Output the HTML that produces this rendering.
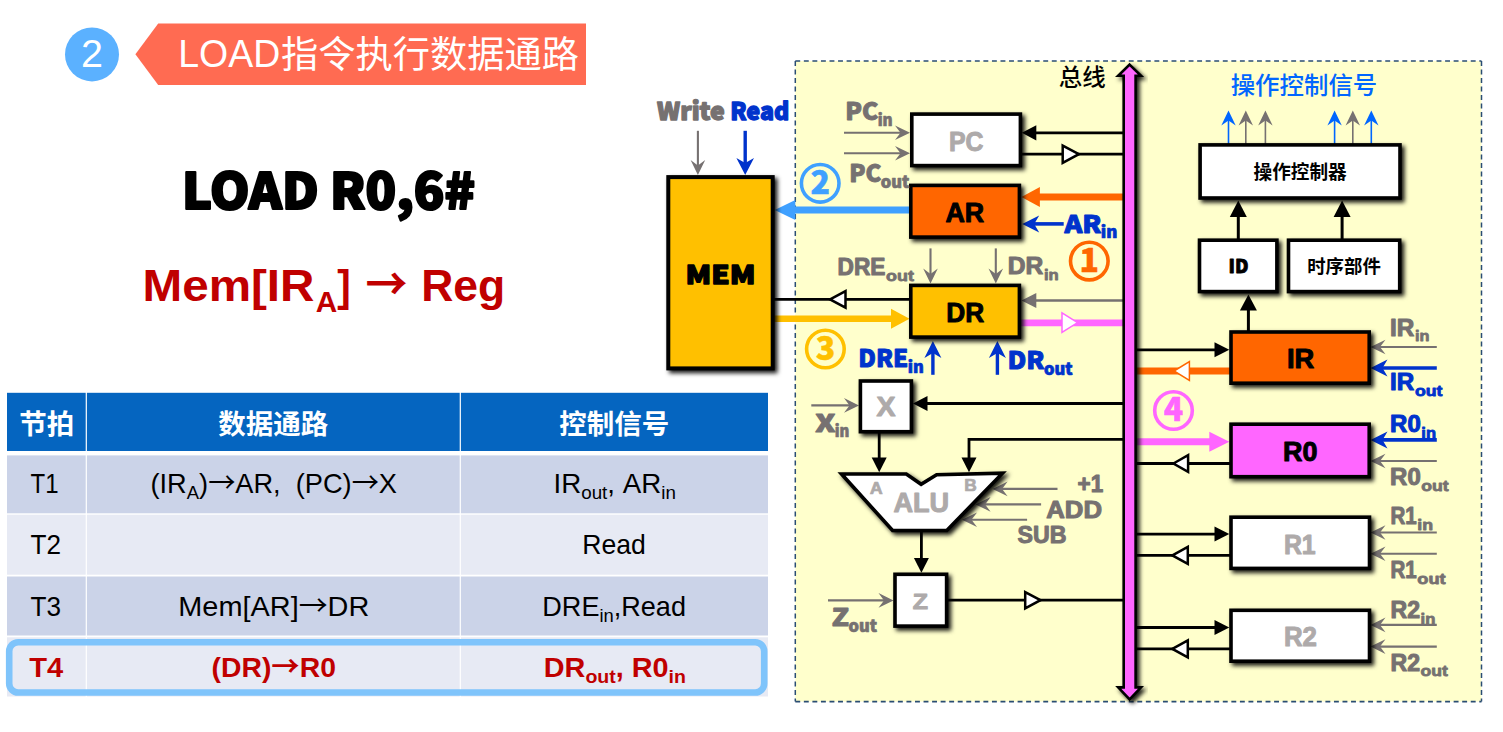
<!DOCTYPE html>
<html lang="zh-CN">
<head>
<meta charset="utf-8">
<title>LOAD指令执行数据通路</title>
<style>
html,body{margin:0;padding:0;background:#fff;}
body{width:1503px;height:732px;overflow:hidden;}
svg{display:block;font-family:"Liberation Sans", "Noto Sans CJK SC", sans-serif;}
svg text{white-space:pre;}
.k{font-family:"Noto Sans CJK SC","Liberation Sans",sans-serif;font-weight:900;}
.ar{font-family:"Noto Sans CJK SC","Liberation Sans",sans-serif;}
</style>
</head>
<body>
<svg width="1503" height="732" viewBox="0 0 1503 732">
<defs>
<filter id="sh" x="-20%" y="-20%" width="150%" height="150%">
<feDropShadow dx="2.8" dy="2.8" stdDeviation="1.9" flood-color="#000" flood-opacity="0.9"/>
</filter>
</defs>
<rect width="1503" height="732" fill="#fff"/>
<circle cx="92" cy="54.4" r="27" fill="#5BB1FF"/>
<text x="92" y="67.2" font-size="39.5" fill="#fff" text-anchor="middle">2</text>
<polygon points="135.4,54.3 158.2,23.5 586.0,23.5 586.0,85.0 158.2,85.0" fill="#FF6B52"/>
<text x="178.2" y="67" font-size="39.6" fill="#fff" textLength="102" lengthAdjust="spacingAndGlyphs">LOAD</text>
<text x="281" y="67.8" font-size="37.4" fill="#fff" textLength="298" lengthAdjust="spacingAndGlyphs">指令执行数据通路</text>
<text x="182" y="209.2" font-size="50" fill="#000" font-weight="bold" textLength="293" lengthAdjust="spacingAndGlyphs" class="k" stroke="#000" stroke-width="2.2" stroke-linejoin="round">LOAD R0,6#</text>
<text x="142.5" y="301.3" font-size="45" fill="#C00000" font-weight="bold" textLength="172" lengthAdjust="spacingAndGlyphs">Mem[IR</text>
<text x="315.8" y="312" font-size="30" fill="#C00000" font-weight="bold" textLength="21.5" lengthAdjust="spacingAndGlyphs">A</text>
<text x="337.3" y="301.3" font-size="45" fill="#C00000" font-weight="bold" textLength="13.5" lengthAdjust="spacingAndGlyphs">]</text>
<text x="365.5" y="301.3" font-size="45" fill="#C00000" font-weight="bold" textLength="42" lengthAdjust="spacingAndGlyphs" class="ar">→</text>
<text x="421.2" y="301.3" font-size="45" fill="#C00000" font-weight="bold" textLength="84" lengthAdjust="spacingAndGlyphs">Reg</text>
<rect x="7.0" y="392.8" width="78.7" height="58.2" fill="#0565C0"/>
<rect x="86.9" y="392.8" width="372.8" height="58.2" fill="#0565C0"/>
<rect x="460.9" y="392.8" width="307.1" height="58.2" fill="#0565C0"/>
<rect x="7.0" y="455.4" width="78.7" height="57.9" fill="#CBD3E8"/>
<rect x="86.9" y="455.4" width="372.8" height="57.9" fill="#CBD3E8"/>
<rect x="460.9" y="455.4" width="307.1" height="57.9" fill="#CBD3E8"/>
<rect x="7.0" y="514.7" width="78.7" height="60.0" fill="#E7EAF4"/>
<rect x="86.9" y="514.7" width="372.8" height="60.0" fill="#E7EAF4"/>
<rect x="460.9" y="514.7" width="307.1" height="60.0" fill="#E7EAF4"/>
<rect x="7.0" y="576.5" width="78.7" height="59.0" fill="#CBD3E8"/>
<rect x="86.9" y="576.5" width="372.8" height="59.0" fill="#CBD3E8"/>
<rect x="460.9" y="576.5" width="307.1" height="59.0" fill="#CBD3E8"/>
<rect x="7.0" y="637.3" width="78.7" height="59.2" fill="#E7EAF4"/>
<rect x="86.9" y="637.3" width="372.8" height="59.2" fill="#E7EAF4"/>
<rect x="460.9" y="637.3" width="307.1" height="59.2" fill="#E7EAF4"/>
<text x="46.65" y="433.5" font-size="27.5" fill="#fff" font-weight="bold" text-anchor="middle">节拍</text>
<text x="273.3" y="433.5" font-size="27.5" fill="#fff" font-weight="bold" text-anchor="middle">数据通路</text>
<text x="614.15" y="433.5" font-size="27.5" fill="#fff" font-weight="bold" text-anchor="middle">控制信号</text>
<text x="30.6" y="493.4" font-size="28" fill="#000" textLength="28" lengthAdjust="spacingAndGlyphs">T1</text>
<text x="30.6" y="554.3" font-size="28" fill="#000" textLength="30.5" lengthAdjust="spacingAndGlyphs">T2</text>
<text x="30.6" y="615.9" font-size="28" fill="#000" textLength="30.5" lengthAdjust="spacingAndGlyphs">T3</text>
<text x="29.3" y="676.6" font-size="28" fill="#C00000" font-weight="bold" textLength="34" lengthAdjust="spacingAndGlyphs">T4</text>
<text x="150.5" y="493.4" font-size="28" fill="#000" textLength="246.5" lengthAdjust="spacingAndGlyphs">(IR<tspan dy="6" font-size="19.0">A</tspan><tspan dy="-6">)<tspan class="ar">→</tspan>AR,  (PC)<tspan class="ar">→</tspan>X</tspan></text>
<text x="178.3" y="615.9" font-size="28" fill="#000" textLength="191" lengthAdjust="spacingAndGlyphs">Mem[AR]<tspan class="ar">→</tspan>DR</text>
<text x="211.6" y="676.6" font-size="28" fill="#C00000" textLength="124.3" lengthAdjust="spacingAndGlyphs" font-weight="bold">(DR)<tspan class="ar">→</tspan>R0</text>
<text x="553.5" y="493.4" font-size="28" fill="#000" textLength="122.4" lengthAdjust="spacingAndGlyphs">IR<tspan dy="6" font-size="19.0">out</tspan><tspan dy="-6">, AR</tspan><tspan dy="6" font-size="19.0">in</tspan></text>
<text x="582.2" y="554.3" font-size="28" fill="#000" textLength="63.6" lengthAdjust="spacingAndGlyphs">Read</text>
<text x="542.3" y="615.9" font-size="28" fill="#000" textLength="143.7" lengthAdjust="spacingAndGlyphs">DRE<tspan dy="6" font-size="19.0">in</tspan><tspan dy="-6">,Read</tspan></text>
<text x="543.8" y="676.6" font-size="28" fill="#C00000" textLength="142.2" lengthAdjust="spacingAndGlyphs" font-weight="bold">DR<tspan dy="6" font-size="19.0">out</tspan><tspan dy="-6">, R0</tspan><tspan dy="6" font-size="19.0">in</tspan></text>
<rect x="9.2" y="642.3" width="755" height="50.2" rx="9" ry="9" fill="none" stroke="#7FC4FB" stroke-width="6.6"/>
<rect x="795.3" y="61" width="686.2" height="640.6" fill="#FFFFCC"/>
<path d="M795.3,61 H1481.5 M795.3,701.6 H1481.5" stroke="#2A4D73" stroke-width="1.6" stroke-dasharray="4.9 3.65" fill="none"/>
<path d="M795.3,61 V701.6 M1481.5,61 V701.6" stroke="#2A4D73" stroke-width="1.5" stroke-dasharray="4.9 3.6" fill="none"/>
<line x1="844" y1="132.8" x2="901.5" y2="132.8" stroke="#767171" stroke-width="2.1"/>
<polygon points="910.0,132.8 895.0,125.5 900.5,132.8 895.0,140.1" fill="#767171"/>
<line x1="844" y1="153.2" x2="901.5" y2="153.2" stroke="#767171" stroke-width="2.1"/>
<polygon points="910.0,153.2 895.0,145.9 900.5,153.2 895.0,160.5" fill="#767171"/>
<line x1="1034" y1="132.8" x2="1124.2" y2="132.8" stroke="#000" stroke-width="2.8"/>
<polygon points="1021.8,132.8 1036.3,125.2 1036.3,140.4" fill="#000"/>
<line x1="1021" y1="154.2" x2="1124.2" y2="154.2" stroke="#000" stroke-width="2.8"/>
<line x1="1038" y1="197" x2="1124.2" y2="197" stroke="#FF6600" stroke-width="7"/>
<polygon points="1021.4,197.0 1039.9,187.0 1039.9,207.0" fill="#FF6600"/>
<line x1="794" y1="210" x2="910" y2="210" stroke="#3FA0FF" stroke-width="7"/>
<polygon points="774.7,210.0 795.3,200.0 795.3,220.0" fill="#3FA0FF"/>
<line x1="1063.7" y1="223.9" x2="1033.2" y2="223.9" stroke="#0033CC" stroke-width="3.6"/>
<polygon points="1022.2,223.9 1039.2,215.4 1034.2,223.9 1039.2,232.4" fill="#0033CC"/>
<line x1="930.5" y1="248.4" x2="930.5" y2="275.1" stroke="#767171" stroke-width="2.1"/>
<polygon points="930.5,283.6 923.2,268.6 930.5,274.1 937.8,268.6" fill="#767171"/>
<line x1="995.8" y1="248.4" x2="995.8" y2="275.1" stroke="#767171" stroke-width="2.1"/>
<polygon points="995.8,283.6 988.5,268.6 995.8,274.1 1003.1,268.6" fill="#767171"/>
<line x1="774" y1="299.4" x2="910" y2="299.4" stroke="#000" stroke-width="2.8"/>
<line x1="774" y1="318.7" x2="893" y2="318.7" stroke="#FFC000" stroke-width="6.4"/>
<polygon points="909.5,318.7 891.0,308.7 891.0,328.7" fill="#FFC000"/>
<line x1="1034" y1="300.5" x2="1124.2" y2="300.5" stroke="#767171" stroke-width="2.6"/>
<polygon points="1021.5,300.5 1036.3,293.0 1036.3,308.0" fill="#767171"/>
<line x1="1021" y1="322.9" x2="1124.2" y2="322.9" stroke="#FF66FF" stroke-width="6.6"/>
<line x1="932.9" y1="374.8" x2="932.9" y2="351.9" stroke="#0033CC" stroke-width="3.4"/>
<polygon points="932.9,340.9 924.4,357.9 932.9,352.9 941.4,357.9" fill="#0033CC"/>
<line x1="997.4" y1="374.8" x2="997.4" y2="351.9" stroke="#0033CC" stroke-width="3.4"/>
<polygon points="997.4,340.9 988.9,357.9 997.4,352.9 1005.9,357.9" fill="#0033CC"/>
<line x1="811.3" y1="405.4" x2="850.5" y2="405.4" stroke="#767171" stroke-width="2.1"/>
<polygon points="859.0,405.4 844.0,398.1 849.5,405.4 844.0,412.7" fill="#767171"/>
<line x1="925" y1="403.5" x2="1124.2" y2="403.5" stroke="#000" stroke-width="2.8"/>
<polygon points="913.0,403.5 927.5,396.1 927.5,410.9" fill="#000"/>
<line x1="879.2" y1="433" x2="879.2" y2="460" stroke="#000" stroke-width="2.8"/>
<polygon points="879.2,472.3 871.7,457.5 886.7,457.5" fill="#000"/>
<polyline points="1124.2,439.4 969,439.4 969,460" fill="none" stroke="#000" stroke-width="2.8"/>
<polygon points="969.0,472.3 961.5,457.5 976.5,457.5" fill="#000"/>
<line x1="921.4" y1="531" x2="921.4" y2="560" stroke="#000" stroke-width="2.8"/>
<polygon points="921.4,572.8 913.9,558.0 928.9,558.0" fill="#000"/>
<line x1="1057.5" y1="488.9" x2="1001.1" y2="488.9" stroke="#767171" stroke-width="2.1"/>
<polygon points="992.6,488.9 1007.6,481.6 1002.1,488.9 1007.6,496.2" fill="#767171"/>
<line x1="1041.1" y1="504.4" x2="984.1" y2="504.4" stroke="#767171" stroke-width="2.1"/>
<polygon points="975.6,504.4 990.6,497.1 985.1,504.4 990.6,511.7" fill="#767171"/>
<line x1="1027.1" y1="519.8" x2="970.5" y2="519.8" stroke="#767171" stroke-width="2.1"/>
<polygon points="962.0,519.8 977.0,512.5 971.5,519.8 977.0,527.1" fill="#767171"/>
<line x1="828" y1="600.4" x2="885.0" y2="600.4" stroke="#767171" stroke-width="2.1"/>
<polygon points="893.5,600.4 878.5,593.1 884.0,600.4 878.5,607.7" fill="#767171"/>
<line x1="948" y1="600.2" x2="1124.2" y2="600.2" stroke="#000" stroke-width="2.8"/>
<line x1="1135.6" y1="349.8" x2="1216" y2="349.8" stroke="#000" stroke-width="2.8"/>
<polygon points="1229.3,349.8 1214.5,342.3 1214.5,357.3" fill="#000"/>
<line x1="1135.6" y1="371" x2="1231" y2="371" stroke="#FF6600" stroke-width="7"/>
<line x1="1135.6" y1="441.8" x2="1211" y2="441.8" stroke="#FF66FF" stroke-width="7"/>
<polygon points="1229.3,441.8 1209.3,431.8 1209.3,451.8" fill="#FF66FF"/>
<line x1="1135.6" y1="463.5" x2="1231" y2="463.5" stroke="#000" stroke-width="2.8"/>
<line x1="1135.6" y1="534.1" x2="1216" y2="534.1" stroke="#000" stroke-width="2.8"/>
<polygon points="1229.3,534.1 1214.5,526.6 1214.5,541.6" fill="#000"/>
<line x1="1135.6" y1="555.4" x2="1231" y2="555.4" stroke="#000" stroke-width="2.8"/>
<line x1="1135.6" y1="627.5" x2="1216" y2="627.5" stroke="#000" stroke-width="2.8"/>
<polygon points="1229.3,627.5 1214.5,620.0 1214.5,635.0" fill="#000"/>
<line x1="1135.6" y1="648.9" x2="1231" y2="648.9" stroke="#000" stroke-width="2.8"/>
<line x1="1436.8" y1="347" x2="1379.0" y2="347" stroke="#767171" stroke-width="2.1"/>
<polygon points="1370.5,347.0 1385.5,339.7 1380.0,347.0 1385.5,354.3" fill="#767171"/>
<line x1="1436.8" y1="368" x2="1381.5" y2="368" stroke="#0033CC" stroke-width="3.6"/>
<polygon points="1370.5,368.0 1387.5,359.5 1382.5,368.0 1387.5,376.5" fill="#0033CC"/>
<line x1="1436.8" y1="439.9" x2="1381.5" y2="439.9" stroke="#0033CC" stroke-width="3.6"/>
<polygon points="1370.5,439.9 1387.5,431.4 1382.5,439.9 1387.5,448.4" fill="#0033CC"/>
<line x1="1436.8" y1="461" x2="1379.0" y2="461" stroke="#767171" stroke-width="2.1"/>
<polygon points="1370.5,461.0 1385.5,453.7 1380.0,461.0 1385.5,468.3" fill="#767171"/>
<line x1="1436.8" y1="532.5" x2="1379.0" y2="532.5" stroke="#767171" stroke-width="2.1"/>
<polygon points="1370.5,532.5 1385.5,525.2 1380.0,532.5 1385.5,539.8" fill="#767171"/>
<line x1="1436.8" y1="553.8" x2="1379.0" y2="553.8" stroke="#767171" stroke-width="2.1"/>
<polygon points="1370.5,553.8 1385.5,546.5 1380.0,553.8 1385.5,561.1" fill="#767171"/>
<line x1="1436.8" y1="624.9" x2="1379.0" y2="624.9" stroke="#767171" stroke-width="2.1"/>
<polygon points="1370.5,624.9 1385.5,617.6 1380.0,624.9 1385.5,632.2" fill="#767171"/>
<line x1="1436.8" y1="646.6" x2="1379.0" y2="646.6" stroke="#767171" stroke-width="2.1"/>
<polygon points="1370.5,646.6 1385.5,639.3 1380.0,646.6 1385.5,653.9" fill="#767171"/>
<line x1="1248.4" y1="306" x2="1248.4" y2="332" stroke="#000" stroke-width="3"/>
<polygon points="1248.4,294.5 1239.9,310.5 1256.9,310.5" fill="#000"/>
<line x1="1238.3" y1="214" x2="1238.3" y2="240" stroke="#000" stroke-width="3"/>
<polygon points="1238.3,200.5 1229.8,217.0 1246.8,217.0" fill="#000"/>
<line x1="1342.1" y1="214" x2="1342.1" y2="240" stroke="#000" stroke-width="3"/>
<polygon points="1342.1,200.5 1333.6,217.0 1350.6,217.0" fill="#000"/>
<line x1="1228.5" y1="144" x2="1228.5" y2="119.5" stroke="#0066FF" stroke-width="1.6"/>
<polygon points="1228.5,110.5 1221.3,125.5 1228.5,120.5 1235.7,125.5" fill="#0066FF"/>
<line x1="1245.8" y1="144" x2="1245.8" y2="119.5" stroke="#767171" stroke-width="1.6"/>
<polygon points="1245.8,110.5 1238.6,125.5 1245.8,120.5 1253.0,125.5" fill="#767171"/>
<line x1="1265.4" y1="144" x2="1265.4" y2="119.5" stroke="#767171" stroke-width="1.6"/>
<polygon points="1265.4,110.5 1258.2,125.5 1265.4,120.5 1272.6,125.5" fill="#767171"/>
<line x1="1334.6" y1="144" x2="1334.6" y2="119.5" stroke="#0066FF" stroke-width="1.6"/>
<polygon points="1334.6,110.5 1327.4,125.5 1334.6,120.5 1341.8,125.5" fill="#0066FF"/>
<line x1="1352.8" y1="144" x2="1352.8" y2="119.5" stroke="#767171" stroke-width="1.6"/>
<polygon points="1352.8,110.5 1345.6,125.5 1352.8,120.5 1360.0,125.5" fill="#767171"/>
<line x1="1371.3" y1="144" x2="1371.3" y2="119.5" stroke="#0066FF" stroke-width="1.6"/>
<polygon points="1371.3,110.5 1364.1,125.5 1371.3,120.5 1378.5,125.5" fill="#0066FF"/>
<line x1="697.9" y1="130.8" x2="697.9" y2="166.5" stroke="#767171" stroke-width="2.1"/>
<polygon points="697.9,175.0 690.6,160.0 697.9,165.5 705.2,160.0" fill="#767171"/>
<line x1="745.2" y1="130.8" x2="745.2" y2="164" stroke="#0033CC" stroke-width="3.4"/>
<polygon points="745.2,175.0 736.4,158.0 745.2,163.0 754.0,158.0" fill="#0033CC"/>
<path d="M1129.6,64.6 L1141,75.7 L1135.6,75.7 L1135.6,687.4 L1141,687.4 L1129.6,699.4 L1118.2,687.4 L1123.7,687.4 L1123.7,75.7 L1118.2,75.7 Z" fill="#FF66FF" stroke="#000" stroke-width="2.6" stroke-linejoin="miter" stroke-miterlimit="6" filter="url(#sh)"/>
<polygon points="1078.8,154.2 1062.7,145.6 1062.7,162.8" fill="#fff" stroke="#000" stroke-width="2.5" stroke-linejoin="miter"/>
<polygon points="830.1,299.4 845.5,291.2 845.5,307.6" fill="#fff" stroke="#000" stroke-width="2.5" stroke-linejoin="miter"/>
<polygon points="1077.6,322.6 1062.0,312.9 1062.0,332.3" fill="#fff" stroke="#FF66FF" stroke-width="1.5" stroke-linejoin="miter"/>
<polygon points="1040.4,600.2 1025.2,592.1 1025.2,608.3" fill="#fff" stroke="#000" stroke-width="2.5" stroke-linejoin="miter"/>
<polygon points="1174.0,371.0 1189.4,361.5 1189.4,380.5" fill="#fff" stroke="#FF6600" stroke-width="1.5" stroke-linejoin="miter"/>
<polygon points="1173.4,463.5 1188.1,455.2 1188.1,471.8" fill="#fff" stroke="#000" stroke-width="2.5" stroke-linejoin="miter"/>
<polygon points="1172.4,555.4 1187.8,546.9 1187.8,563.9" fill="#fff" stroke="#000" stroke-width="2.5" stroke-linejoin="miter"/>
<polygon points="1172.4,648.9 1187.8,640.4 1187.8,657.4" fill="#fff" stroke="#000" stroke-width="2.5" stroke-linejoin="miter"/>
<rect x="668.3" y="177.1" width="104.4" height="191.3" fill="#FFC000" stroke="#000" stroke-width="4" filter="url(#sh)"/>
<rect x="911.8" y="114.1" width="108.6" height="51.5" fill="#fff" stroke="#000" stroke-width="3.6" filter="url(#sh)"/>
<rect x="910.8" y="185.4" width="108.6" height="51.7" fill="#FF6600" stroke="#000" stroke-width="3.6" filter="url(#sh)"/>
<rect x="910.8" y="285.4" width="108.6" height="51.7" fill="#FFC000" stroke="#000" stroke-width="3.6" filter="url(#sh)"/>
<rect x="860.4" y="381.0" width="51.0" height="50.7" fill="#fff" stroke="#000" stroke-width="3.6" filter="url(#sh)"/>
<rect x="895.0" y="574.3" width="51.6" height="51.8" fill="#fff" stroke="#000" stroke-width="3.6" filter="url(#sh)"/>
<rect x="1200.1" y="144.9" width="199.9" height="53.1" fill="#fff" stroke="#000" stroke-width="3.6" filter="url(#sh)"/>
<rect x="1199.5" y="240.2" width="77.4" height="51.4" fill="#fff" stroke="#000" stroke-width="3.6" filter="url(#sh)"/>
<rect x="1288.5" y="240.2" width="111.2" height="51.4" fill="#fff" stroke="#000" stroke-width="3.6" filter="url(#sh)"/>
<rect x="1231.0" y="332.0" width="138.2" height="51.2" fill="#FF6600" stroke="#000" stroke-width="3.6" filter="url(#sh)"/>
<rect x="1231.0" y="424.2" width="138.2" height="52.5" fill="#FF66FF" stroke="#000" stroke-width="3.6" filter="url(#sh)"/>
<rect x="1231.0" y="517.2" width="138.5" height="51.2" fill="#fff" stroke="#000" stroke-width="3.6" filter="url(#sh)"/>
<rect x="1231.0" y="610.3" width="138.5" height="50.9" fill="#fff" stroke="#000" stroke-width="3.6" filter="url(#sh)"/>
<polygon points="841.5,474.0 906.3,474.0 921.1,484.3 936.6,474.8 1002.5,473.2 946.8,530.5 892.6,530.5" fill="#fff" stroke="#000" stroke-width="3.6" stroke-linejoin="miter" filter="url(#sh)"/>
<text x="685.6" y="283.6" font-size="25" fill="#000" font-weight="bold" textLength="70" lengthAdjust="spacingAndGlyphs" class="k" stroke="#000" stroke-width="1.3" stroke-linejoin="round">MEM</text>
<text x="948.9" y="150.8" font-size="27" fill="#AEAAAA" font-weight="bold" textLength="34.5" lengthAdjust="spacingAndGlyphs" stroke="#AEAAAA" stroke-width="1.0" stroke-linejoin="round">PC</text>
<text x="945.5" y="221.9" font-size="27" fill="#000" font-weight="bold" textLength="38.7" lengthAdjust="spacingAndGlyphs" stroke="#000" stroke-width="1.0" stroke-linejoin="round">AR</text>
<text x="946.3" y="321.9" font-size="27" fill="#000" font-weight="bold" textLength="37.9" lengthAdjust="spacingAndGlyphs" stroke="#000" stroke-width="1.0" stroke-linejoin="round">DR</text>
<text x="876.5" y="415.5" font-size="27" fill="#AEAAAA" font-weight="bold" textLength="19" lengthAdjust="spacingAndGlyphs" stroke="#AEAAAA" stroke-width="1.0" stroke-linejoin="round">X</text>
<text x="912.7" y="609.3" font-size="22.5" fill="#AEAAAA" font-weight="bold" textLength="15.2" lengthAdjust="spacingAndGlyphs" stroke="#AEAAAA" stroke-width="1.0" stroke-linejoin="round">Z</text>
<text x="893.4" y="511.8" font-size="27.5" fill="#AEAAAA" font-weight="bold" textLength="55.7" lengthAdjust="spacingAndGlyphs" stroke="#AEAAAA" stroke-width="1.0" stroke-linejoin="round">ALU</text>
<text x="869.8" y="493.5" font-size="17" fill="#AEAAAA" font-weight="bold" textLength="13" lengthAdjust="spacingAndGlyphs" stroke="#AEAAAA" stroke-width="0.7" stroke-linejoin="round">A</text>
<text x="964.3" y="490.9" font-size="16.5" fill="#AEAAAA" font-weight="bold" textLength="12.5" lengthAdjust="spacingAndGlyphs" stroke="#AEAAAA" stroke-width="0.7" stroke-linejoin="round">B</text>
<text x="1286.9" y="367.7" font-size="27" fill="#000" font-weight="bold" textLength="27.3" lengthAdjust="spacingAndGlyphs" stroke="#000" stroke-width="1.0" stroke-linejoin="round">IR</text>
<text x="1283.1" y="460.7" font-size="27" fill="#000" font-weight="bold" textLength="34.4" lengthAdjust="spacingAndGlyphs" stroke="#000" stroke-width="1.0" stroke-linejoin="round">R0</text>
<text x="1283.9" y="553.8" font-size="27" fill="#AEAAAA" font-weight="bold" textLength="31.8" lengthAdjust="spacingAndGlyphs" stroke="#AEAAAA" stroke-width="1.0" stroke-linejoin="round">R1</text>
<text x="1283.9" y="646.2" font-size="27" fill="#AEAAAA" font-weight="bold" textLength="33" lengthAdjust="spacingAndGlyphs" stroke="#AEAAAA" stroke-width="1.0" stroke-linejoin="round">R2</text>
<text x="1228.5" y="273.3" font-size="19" fill="#000" font-weight="bold" textLength="20" lengthAdjust="spacingAndGlyphs" class="k" stroke="#000" stroke-width="0.8" stroke-linejoin="round">ID</text>
<text x="1253.6" y="178.8" font-size="18.8" fill="#000" font-weight="bold" textLength="93.1" lengthAdjust="spacingAndGlyphs">操作控制器</text>
<text x="1307.2" y="273.2" font-size="18.6" fill="#000" font-weight="bold" textLength="73.7" lengthAdjust="spacingAndGlyphs">时序部件</text>
<text x="1058.7" y="85.8" font-size="23.5" fill="#000" font-weight="500" textLength="46.9" lengthAdjust="spacingAndGlyphs">总线</text>
<text x="1230.7" y="93.9" font-size="24.4" fill="#0066FF" font-weight="500" textLength="146.6" lengthAdjust="spacingAndGlyphs">操作控制信号</text>
<text x="657" y="119.5" font-size="24.5" fill="#767171" font-weight="bold" textLength="67.8" lengthAdjust="spacingAndGlyphs" class="k" stroke="#767171" stroke-width="1.3" stroke-linejoin="round">Write</text>
<text x="730.2" y="119.5" font-size="24.5" fill="#0033CC" font-weight="bold" textLength="59.1" lengthAdjust="spacingAndGlyphs" class="k" stroke="#0033CC" stroke-width="1.3" stroke-linejoin="round">Read</text>
<text x="845.3" y="120.3" font-size="24.5" fill="#767171" font-weight="bold" textLength="33.1" lengthAdjust="spacingAndGlyphs" class="k" stroke="#767171" stroke-width="0.9" stroke-linejoin="round">PC</text>
<text x="877.7" y="126.0" font-size="16.5" fill="#767171" font-weight="bold" textLength="15.0" lengthAdjust="spacingAndGlyphs" class="k" stroke="#767171" stroke-width="0.7" stroke-linejoin="round">in</text>
<text x="849.3" y="182.1" font-size="24.5" fill="#767171" font-weight="bold" textLength="32.1" lengthAdjust="spacingAndGlyphs" class="k" stroke="#767171" stroke-width="0.9" stroke-linejoin="round">PC</text>
<text x="880.7" y="187.8" font-size="16.5" fill="#767171" font-weight="bold" textLength="28.6" lengthAdjust="spacingAndGlyphs" class="k" stroke="#767171" stroke-width="0.7" stroke-linejoin="round">out</text>
<text x="837.6" y="275.4" font-size="23" fill="#767171" font-weight="bold" textLength="47.9" lengthAdjust="spacingAndGlyphs" stroke="#767171" stroke-width="1.0" stroke-linejoin="round">DRE</text>
<text x="886.1" y="281.2" font-size="15.5" fill="#767171" font-weight="bold" textLength="27.8" lengthAdjust="spacingAndGlyphs" stroke="#767171" stroke-width="0.8" stroke-linejoin="round">out</text>
<text x="1007.8" y="274.2" font-size="23" fill="#767171" font-weight="bold" textLength="35.5" lengthAdjust="spacingAndGlyphs" stroke="#767171" stroke-width="1.0" stroke-linejoin="round">DR</text>
<text x="1043.9" y="280.0" font-size="15.5" fill="#767171" font-weight="bold" textLength="14.8" lengthAdjust="spacingAndGlyphs" stroke="#767171" stroke-width="0.8" stroke-linejoin="round">in</text>
<text x="1064.4" y="232.7" font-size="24.5" fill="#0033CC" font-weight="bold" textLength="37.1" lengthAdjust="spacingAndGlyphs" class="k" stroke="#0033CC" stroke-width="0.9" stroke-linejoin="round">AR</text>
<text x="1100.8" y="238.4" font-size="16.5" fill="#0033CC" font-weight="bold" textLength="16.6" lengthAdjust="spacingAndGlyphs" class="k" stroke="#0033CC" stroke-width="0.7" stroke-linejoin="round">in</text>
<text x="858.3" y="366.8" font-size="24.5" fill="#0033CC" font-weight="bold" textLength="50.1" lengthAdjust="spacingAndGlyphs" class="k" stroke="#0033CC" stroke-width="0.9" stroke-linejoin="round">DRE</text>
<text x="907.7" y="372.5" font-size="16.5" fill="#0033CC" font-weight="bold" textLength="16.1" lengthAdjust="spacingAndGlyphs" class="k" stroke="#0033CC" stroke-width="0.7" stroke-linejoin="round">in</text>
<text x="1007.5" y="369.2" font-size="24.5" fill="#0033CC" font-weight="bold" textLength="37.1" lengthAdjust="spacingAndGlyphs" class="k" stroke="#0033CC" stroke-width="0.9" stroke-linejoin="round">DR</text>
<text x="1043.9" y="374.9" font-size="16.5" fill="#0033CC" font-weight="bold" textLength="28.6" lengthAdjust="spacingAndGlyphs" class="k" stroke="#0033CC" stroke-width="0.7" stroke-linejoin="round">out</text>
<text x="815.3" y="431.7" font-size="24.5" fill="#767171" font-weight="bold" textLength="20.2" lengthAdjust="spacingAndGlyphs" class="k" stroke="#767171" stroke-width="0.9" stroke-linejoin="round">X</text>
<text x="834.8" y="437.4" font-size="16.5" fill="#767171" font-weight="bold" textLength="14.6" lengthAdjust="spacingAndGlyphs" class="k" stroke="#767171" stroke-width="0.7" stroke-linejoin="round">in</text>
<text x="831.8" y="626.4" font-size="24.5" fill="#767171" font-weight="bold" textLength="17.3" lengthAdjust="spacingAndGlyphs" class="k" stroke="#767171" stroke-width="0.9" stroke-linejoin="round">Z</text>
<text x="848.4" y="632.1" font-size="16.5" fill="#767171" font-weight="bold" textLength="28.6" lengthAdjust="spacingAndGlyphs" class="k" stroke="#767171" stroke-width="0.7" stroke-linejoin="round">out</text>
<text x="1077.6" y="492.1" font-size="23" fill="#767171" font-weight="bold" textLength="25.6" lengthAdjust="spacingAndGlyphs" stroke="#767171" stroke-width="1.0" stroke-linejoin="round">+1</text>
<text x="1046.2" y="518.4" font-size="23" fill="#767171" font-weight="bold" textLength="55.8" lengthAdjust="spacingAndGlyphs" stroke="#767171" stroke-width="1.0" stroke-linejoin="round">ADD</text>
<text x="1017.5" y="543.4" font-size="23" fill="#767171" font-weight="bold" textLength="48.9" lengthAdjust="spacingAndGlyphs" stroke="#767171" stroke-width="1.0" stroke-linejoin="round">SUB</text>
<text x="1390.1" y="335.5" font-size="23" fill="#767171" font-weight="bold" textLength="24.3" lengthAdjust="spacingAndGlyphs" stroke="#767171" stroke-width="1.0" stroke-linejoin="round">IR</text>
<text x="1415.0" y="341.3" font-size="15.5" fill="#767171" font-weight="bold" textLength="14.5" lengthAdjust="spacingAndGlyphs" stroke="#767171" stroke-width="0.8" stroke-linejoin="round">in</text>
<text x="1390.1" y="390.1" font-size="23" fill="#0033CC" font-weight="bold" textLength="24.2" lengthAdjust="spacingAndGlyphs" stroke="#0033CC" stroke-width="1.0" stroke-linejoin="round">IR</text>
<text x="1414.9" y="395.9" font-size="15.5" fill="#0033CC" font-weight="bold" textLength="27.5" lengthAdjust="spacingAndGlyphs" stroke="#0033CC" stroke-width="0.8" stroke-linejoin="round">out</text>
<text x="1390.1" y="432.1" font-size="23" fill="#0033CC" font-weight="bold" textLength="30.6" lengthAdjust="spacingAndGlyphs" stroke="#0033CC" stroke-width="1.0" stroke-linejoin="round">R0</text>
<text x="1421.3" y="437.9" font-size="15.5" fill="#0033CC" font-weight="bold" textLength="14.7" lengthAdjust="spacingAndGlyphs" stroke="#0033CC" stroke-width="0.8" stroke-linejoin="round">in</text>
<text x="1390.1" y="485.1" font-size="23" fill="#767171" font-weight="bold" textLength="30.6" lengthAdjust="spacingAndGlyphs" stroke="#767171" stroke-width="1.0" stroke-linejoin="round">R0</text>
<text x="1421.3" y="490.9" font-size="15.5" fill="#767171" font-weight="bold" textLength="27.4" lengthAdjust="spacingAndGlyphs" stroke="#767171" stroke-width="0.8" stroke-linejoin="round">out</text>
<text x="1390.5" y="524.3" font-size="23" fill="#767171" font-weight="bold" textLength="26.2" lengthAdjust="spacingAndGlyphs" stroke="#767171" stroke-width="1.0" stroke-linejoin="round">R1</text>
<text x="1417.3" y="530.1" font-size="15.5" fill="#767171" font-weight="bold" textLength="15.8" lengthAdjust="spacingAndGlyphs" stroke="#767171" stroke-width="0.8" stroke-linejoin="round">in</text>
<text x="1390.5" y="577.7" font-size="23" fill="#767171" font-weight="bold" textLength="26.2" lengthAdjust="spacingAndGlyphs" stroke="#767171" stroke-width="1.0" stroke-linejoin="round">R1</text>
<text x="1417.3" y="583.5" font-size="15.5" fill="#767171" font-weight="bold" textLength="28.3" lengthAdjust="spacingAndGlyphs" stroke="#767171" stroke-width="0.8" stroke-linejoin="round">out</text>
<text x="1390.5" y="617.7" font-size="23" fill="#767171" font-weight="bold" textLength="29.5" lengthAdjust="spacingAndGlyphs" stroke="#767171" stroke-width="1.0" stroke-linejoin="round">R2</text>
<text x="1420.6" y="623.5" font-size="15.5" fill="#767171" font-weight="bold" textLength="14.8" lengthAdjust="spacingAndGlyphs" stroke="#767171" stroke-width="0.8" stroke-linejoin="round">in</text>
<text x="1390.5" y="670.6" font-size="23" fill="#767171" font-weight="bold" textLength="29.5" lengthAdjust="spacingAndGlyphs" stroke="#767171" stroke-width="1.0" stroke-linejoin="round">R2</text>
<text x="1420.6" y="676.4" font-size="15.5" fill="#767171" font-weight="bold" textLength="27.3" lengthAdjust="spacingAndGlyphs" stroke="#767171" stroke-width="0.8" stroke-linejoin="round">out</text>
<circle cx="1089.3" cy="261.1" r="18.8" fill="none" stroke="#FF6600" stroke-width="3.6"/>
<text x="1089.3" y="271.7" font-size="32" fill="#FF6600" font-weight="bold" text-anchor="middle" class="k" stroke="#FF6600" stroke-width="0.5" stroke-linejoin="round">1</text>
<circle cx="820.2" cy="183.3" r="18.8" fill="none" stroke="#3FA0FF" stroke-width="3.6"/>
<text x="820.2" y="193.9" font-size="32" fill="#3FA0FF" font-weight="bold" text-anchor="middle" class="k" stroke="#3FA0FF" stroke-width="0.5" stroke-linejoin="round">2</text>
<circle cx="825.4" cy="349" r="18.8" fill="none" stroke="#FFC000" stroke-width="3.6"/>
<text x="825.4" y="359.6" font-size="32" fill="#FFC000" font-weight="bold" text-anchor="middle" class="k" stroke="#FFC000" stroke-width="0.5" stroke-linejoin="round">3</text>
<circle cx="1173.5" cy="410.5" r="18.8" fill="none" stroke="#FF66FF" stroke-width="3.6"/>
<text x="1173.5" y="421.1" font-size="32" fill="#FF66FF" font-weight="bold" text-anchor="middle" class="k" stroke="#FF66FF" stroke-width="0.5" stroke-linejoin="round">4</text>
</svg>
</body>
</html>
